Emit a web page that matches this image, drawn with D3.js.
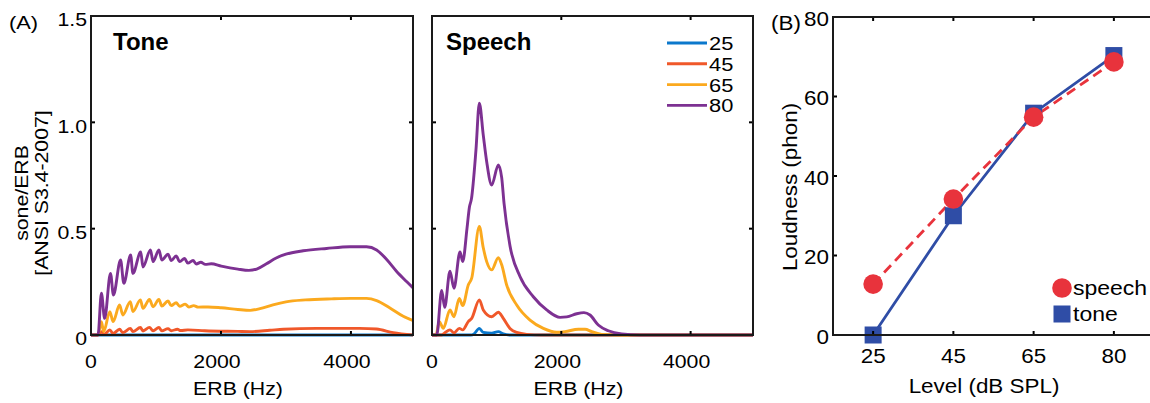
<!DOCTYPE html>
<html>
<head>
<meta charset="utf-8">
<script src="https://cdn.jsdelivr.net/npm/d3@7"></script>
<style>
  body { margin: 0; background: #fff; }
  svg { display: block; font-family: 'Liberation Sans', Arial, sans-serif; }
</style>
</head>
<body>
<svg id="fig" width="1150" height="403"></svg>
<script>
// Panel A data: [ERB (Hz), sone/ERB]
const toneLevel25 = [[0, 0], [4960, 0]];
const toneLevel45 = [[0, 0], [108, 0], [160, 0.016], [200, 0.002], [290, 0.024], [340, 0.007], [440, 0.027],
  [490, 0.011], [605, 0.031], [645, 0.016], [760, 0.035], [800, 0.019], [900, 0.036], [955, 0.02],
  [1045, 0.035], [1090, 0.02], [1185, 0.03], [1235, 0.02], [1330, 0.027], [1380, 0.021], [1490, 0.024],
  [1750, 0.02], [2260, 0.017], [2445, 0.016], [2750, 0.022], [2960, 0.027], [3470, 0.031], [4130, 0.031],
  [4395, 0.028], [4650, 0.011], [4960, 0]];
const toneLevel65 = [[0, 0], [108, 0], [160, 0.063], [195, 0.016], [290, 0.11], [340, 0.063], [440, 0.141],
  [490, 0.094], [605, 0.157], [645, 0.11], [760, 0.165], [800, 0.125], [900, 0.167], [955, 0.133],
  [1045, 0.167], [1090, 0.136], [1185, 0.16], [1235, 0.138], [1310, 0.152], [1365, 0.135], [1450, 0.145],
  [1505, 0.132], [1580, 0.138], [1650, 0.131], [1800, 0.132], [2005, 0.128], [2260, 0.12], [2450, 0.116],
  [2600, 0.124], [2800, 0.142], [3000, 0.156], [3300, 0.165], [3700, 0.17], [4000, 0.172], [4240, 0.172],
  [4395, 0.162], [4600, 0.127], [4805, 0.088], [4960, 0.067]];
const toneLevel80 = [[0, 0], [108, 0], [160, 0.196], [210, 0.078], [300, 0.29], [345, 0.188], [455, 0.353],
  [505, 0.243], [610, 0.376], [645, 0.29], [765, 0.39], [800, 0.32], [915, 0.4], [955, 0.345],
  [1045, 0.4], [1090, 0.353], [1185, 0.38], [1235, 0.35], [1310, 0.372], [1365, 0.345], [1440, 0.36],
  [1490, 0.338], [1570, 0.35], [1620, 0.334], [1690, 0.342], [1760, 0.332], [1850, 0.335], [2005, 0.324],
  [2260, 0.31], [2430, 0.304], [2550, 0.31], [2700, 0.335], [2850, 0.362], [3000, 0.38], [3265, 0.396],
  [3625, 0.407], [3985, 0.415], [4240, 0.415], [4395, 0.4], [4550, 0.355], [4700, 0.3], [4860, 0.25],
  [4960, 0.22]];

const speechLevel25 = [[0, 0], [600, 0], [650, 0.005], [732, 0.031], [793, 0.012], [923, 0.008],
  [1026, 0.016], [1103, 0.005], [1200, 0], [4965, 0]];
const speechLevel45 = [[0, 0], [150, 0], [196, 0.01], [278, 0.024], [340, 0.01], [422, 0.031], [475, 0.024],
  [561, 0.063], [614, 0.078], [732, 0.165], [793, 0.118], [923, 0.086], [1026, 0.107], [1103, 0.078],
  [1206, 0.031], [1310, 0.012], [1465, 0.003], [1700, 0], [4965, 0]];
const speechLevel65 = [[0, 0], [62, 0], [113, 0.063], [175, 0.031], [278, 0.118], [340, 0.086], [422, 0.172],
  [475, 0.138], [561, 0.235], [614, 0.267], [732, 0.51], [793, 0.41], [846, 0.345], [923, 0.306],
  [1026, 0.364], [1078, 0.33], [1155, 0.235], [1310, 0.141], [1516, 0.07], [1722, 0.031], [1929, 0.013],
  [2057, 0.016], [2263, 0.027], [2367, 0.027], [2470, 0.016], [2625, 0.003], [2934, 0], [4965, 0]];
const speechLevel80 = [[0, 0], [73, 0], [150, 0.21], [196, 0.13], [278, 0.3], [340, 0.22], [433, 0.39],
  [475, 0.345], [541, 0.5], [578, 0.6], [610, 0.64], [680, 0.87], [732, 1.09], [793, 0.94], [846, 0.815],
  [923, 0.705], [1026, 0.8], [1078, 0.74], [1114, 0.62], [1206, 0.42], [1361, 0.275], [1567, 0.18],
  [1774, 0.118], [1980, 0.083], [2084, 0.085], [2238, 0.1], [2351, 0.105], [2444, 0.094], [2572, 0.047],
  [2727, 0.02], [2934, 0.005], [3217, 0], [4965, 0]];

const levelNames = ['25', '45', '65', '80'];
const levelColors = ['#0b78cc', '#f0582a', '#fba91e', '#7d3192'];
const erbTicks = [0, 2000, 4000];
const soneTicks = [0, 0.5, 1.0, 1.5];
const soneTickLabels = ['0', '0.5', '1.0', '1.5'];

// Panel B data: loudness (phon) per level (dB SPL)
const levels = ['25', '45', '65', '80'];
const speechPhon = [12.8, 34.2, 54.8, 68.7];
const tonePhon = [0, 30, 55.8, 70.3];
const phonTicks = [0, 20, 40, 60, 80];

const svg = d3.select('#fig');
const STRETCH = 1.15; // regular text in the figure is a bit wider than Arial

// plain text, slightly widened; anchor: start | middle | end
function label(g, x, y, str, size, anchor, rotate) {
  return g.append('text')
    .attr('transform', 'translate(' + x + ',' + y + ')' + (rotate ? ' rotate(-90)' : '') +
      ' scale(' + STRETCH + ',1)')
    .attr('text-anchor', anchor || 'start')
    .attr('font-size', size)
    .text(str);
}

function drawFrame(g, x, y, xTicks, yTicks, showYLabels, yLabels, fontSize, yShift) {
  const [x0, x1] = x.range();
  const [y0, y1] = y.range();
  const tickLen = 4;
  const ticks = g.append('g').attr('stroke', '#000').attr('stroke-width', 2);
  xTicks.forEach((t) => {
    ticks.append('line').attr('x1', x(t)).attr('x2', x(t)).attr('y1', y0).attr('y2', y0 - tickLen);
    ticks.append('line').attr('x1', x(t)).attr('x2', x(t)).attr('y1', y1).attr('y2', y1 + tickLen);
  });
  yTicks.forEach((t) => {
    ticks.append('line').attr('x1', x0).attr('x2', x0 + tickLen).attr('y1', y(t)).attr('y2', y(t));
    ticks.append('line').attr('x1', x1).attr('x2', x1 - tickLen).attr('y1', y(t)).attr('y2', y(t));
  });
  g.append('rect')
    .attr('x', x0).attr('y', y1)
    .attr('width', x1 - x0).attr('height', y0 - y1)
    .attr('fill', 'none').attr('stroke', '#1a1a1a').attr('stroke-width', 2);

  if (showYLabels) {
    yTicks.forEach((t, i) => {
      label(g, x0 - 4, y(t) + yShift + fontSize * 0.35, yLabels[i], fontSize, 'end');
    });
  }
}

function drawCurvePanel(left, right, series, title, showYLabels, xDomainMax) {
  const x = d3.scaleLinear().domain([0, xDomainMax]).range([left, right]);
  const y = d3.scaleLinear().domain([0, 1.5]).range([335, 16]);
  const g = svg.append('g');
  const clipId = 'clip' + left;
  g.append('clipPath').attr('id', clipId).append('rect')
    .attr('x', left).attr('y', 16).attr('width', right - left).attr('height', 321);

  const line = d3.line()
    .x((d) => x(d[0]))
    .y((d) => y(d[1]))
    .curve(d3.curveMonotoneX);

  g.append('g').attr('clip-path', 'url(#' + clipId + ')')
    .selectAll('path').data(series).enter().append('path')
    .attr('d', line)
    .attr('fill', 'none')
    .attr('stroke', (d, i) => levelColors[i])
    .attr('stroke-width', 2.9)
    .attr('stroke-linejoin', 'round');

  drawFrame(g, x, y, erbTicks, soneTicks, showYLabels, soneTickLabels, 18.5, 4);

  erbTicks.forEach((t) => {
    label(g, x(t) - (t === 0 ? 0 : 4), 368, String(t), 18.5, 'middle');
  });
  label(g, (left + right) / 2 - 14, 395, 'ERB (Hz)', 18.5, 'middle');

  g.append('text')
    .attr('x', left + (title === 'Tone' ? 22 : 14))
    .attr('y', 50)
    .attr('font-size', 24)
    .attr('font-weight', 'bold')
    .text(title);
  return g;
}

drawCurvePanel(91, 413, [toneLevel25, toneLevel45, toneLevel65, toneLevel80], 'Tone', true, 4955);
const speechPanel = drawCurvePanel(432, 753,
  [speechLevel25, speechLevel45, speechLevel65, speechLevel80], 'Speech', false, 4965);

// legend for levels
levelNames.forEach((name, i) => {
  const ly = 43 + i * 20.8;
  speechPanel.append('line')
    .attr('x1', 667).attr('x2', 707).attr('y1', ly).attr('y2', ly)
    .attr('stroke', levelColors[i]).attr('stroke-width', 2.9);
  label(speechPanel, 709, ly + 7, name, 19);
});

// panel labels and y titles for A
label(svg, 9, 29, '(A)', 19);
label(svg, 28, 193, 'sone/ERB', 18.5, 'middle', true);
label(svg, 48, 193, '[ANSI S3.4-2007]', 18.5, 'middle', true);

// Panel B
const xb = d3.scalePoint().domain(levels).range([833, 1154]).padding(0.5);
const yb = d3.scaleLinear().domain([0, 80]).range([335, 17]);
const gb = svg.append('g');
const xbPos = (d) => xb(d);
xbPos.range = () => xb.range();

const levelLine = d3.line().x((d, i) => xb(levels[i])).y((d) => yb(d));
gb.append('path')
  .attr('d', levelLine(tonePhon))
  .attr('fill', 'none').attr('stroke', '#2f4da6').attr('stroke-width', 2.8);
gb.append('path')
  .attr('d', levelLine(speechPhon))
  .attr('fill', 'none').attr('stroke', '#e8333c').attr('stroke-width', 2.8)
  .attr('stroke-dasharray', '10,6');

const sq = 17;
gb.selectAll('.sq').data(tonePhon).enter().append('rect')
  .attr('x', (d, i) => xb(levels[i]) - sq / 2)
  .attr('y', (d) => yb(d) - sq / 2)
  .attr('width', sq).attr('height', sq)
  .attr('fill', '#2f4da6');
gb.selectAll('.dot').data(speechPhon).enter().append('circle')
  .attr('cx', (d, i) => xb(levels[i]))
  .attr('cy', (d) => yb(d))
  .attr('r', 9.8)
  .attr('fill', '#e8333c');

drawFrame(gb, xbPos, yb, levels, phonTicks, true, phonTicks.map(String), 19.5, 2);

levels.forEach((lv) => label(gb, xb(lv), 363, lv, 19.5, 'middle'));
label(gb, 984, 393, 'Level (dB SPL)', 19.5, 'middle');
label(gb, 797, 187, 'Loudness (phon)', 19.5, 'middle', true);
label(gb, 771, 30, '(B)', 19.5);

// legend B
gb.append('circle').attr('cx', 1062).attr('cy', 288).attr('r', 9.8).attr('fill', '#e8333c');
label(gb, 1073, 295, 'speech', 20);
gb.append('rect').attr('x', 1062 - sq / 2).attr('y', 314 - sq / 2).attr('width', sq).attr('height', sq)
  .attr('fill', '#2f4da6');
label(gb, 1073, 321, 'tone', 20);
</script>
</body>
</html>
